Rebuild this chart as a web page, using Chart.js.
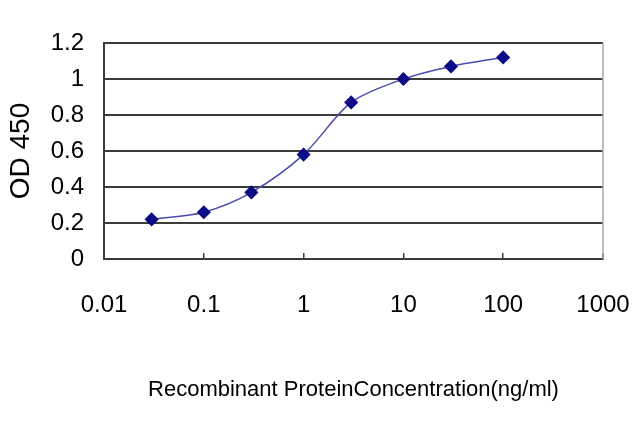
<!DOCTYPE html>
<html>
<head>
<meta charset="utf-8">
<script src="https://cdn.jsdelivr.net/npm/chart.js@4/dist/chart.umd.min.js"></script>
<style>
  html, body { margin: 0; padding: 0; background: #fff; }
  #wrap { width: 640px; height: 427px; }
</style>
</head>
<body>
<div id="wrap"><canvas id="result" width="640" height="427"></canvas></div>
<script>
// concentration (ng/ml) and OD 450
const concentrations = [0.03, 0.1, 0.3, 1, 3, 10, 30, 100];
const odValues = [0.22, 0.26, 0.37, 0.58, 0.87, 1.0, 1.07, 1.12];
const xTicks = [0.01, 0.1, 1, 10, 100, 1000];
const xTickLabels = ['0.01', '0.1', '1', '10', '100', '1000'];
const yTickLabels = ['0', '0.2', '0.4', '0.6', '0.8', '1', '1.2'];

const lineColor = '#4a4aae';
const markerColor = '#0c0c86';
const gridColor = '#3c3c3c';
const tickFont = { family: 'Liberation Sans', size: 24 };

function mountChart () {
    let ctx = document.getElementById('result').getContext('2d');
    let myChart = new Chart(ctx, {
        type: 'line',
        data: {
            datasets: [{
                data: concentrations.map((c, i) => ({ x: c, y: odValues[i] })),
                borderColor: lineColor,
                borderWidth: 1.5,
                tension: 0.3,
                pointStyle: 'rectRot',
                pointRadius: 6,
                pointBackgroundColor: markerColor,
                pointBorderColor: markerColor,
                fill: false
            }]
        },
        options: {
            responsive: false,
            animation: false,
            layout: { padding: { top: 43, right: 37, left: 0, bottom: 0 } },
            plugins: { legend: { display: false }, tooltip: { enabled: false } },
            scales: {
                x: {
                    type: 'logarithmic',
                    min: 0.01,
                    max: 1000,
                    afterBuildTicks: scale => { scale.ticks = xTicks.map(v => ({ value: v })); },
                    afterFit: scale => {
                        scale.height = 427 - 259;
                        scale.paddingLeft = 0;
                        scale.paddingRight = 0;
                    },
                    ticks: {
                        color: '#000',
                        font: tickFont,
                        padding: 38,
                        maxRotation: 0,
                        autoSkip: false,
                        callback: (v, i) => xTickLabels[i]
                    },
                    grid: {
                        drawOnChartArea: false,
                        drawTicks: true,
                        tickLength: -6,
                        color: gridColor,
                        lineWidth: 1.5
                    },
                    border: { color: gridColor, width: 2 },
                    title: {
                        display: true,
                        text: 'Recombinant ProteinConcentration(ng/ml)',
                        color: '#000',
                        font: { family: 'Liberation Sans', size: 22 },
                        padding: { top: 0, bottom: 24 }
                    }
                },
                y: {
                    min: 0,
                    max: 1.2,
                    afterFit: scale => {
                        scale.width = 104;
                        scale.paddingTop = 0;
                        scale.paddingBottom = 0;
                    },
                    ticks: {
                        stepSize: 0.2,
                        color: '#000',
                        font: tickFont,
                        padding: 20,
                        callback: (v, i) => yTickLabels[i]
                    },
                    grid: {
                        color: gridColor,
                        lineWidth: 2,
                        drawTicks: false
                    },
                    border: { color: gridColor, width: 2 },
                    title: {
                        display: true,
                        text: 'OD 450',
                        color: '#000',
                        font: { family: 'Liberation Sans', size: 28 },
                        padding: { top: 4, bottom: 0 }
                    }
                }
            }
        },
        plugins: [{
            id: 'rightBorder',
            afterDraw: chart => {
                let a = chart.chartArea;
                let c = chart.ctx;
                c.save();
                c.strokeStyle = '#a8a8a8';
                c.lineWidth = 1.5;
                c.beginPath();
                c.moveTo(a.right, a.top);
                c.lineTo(a.right, a.bottom);
                c.stroke();
                c.restore();
            }
        }]
    });
}

mountChart();
</script>
</body>
</html>
